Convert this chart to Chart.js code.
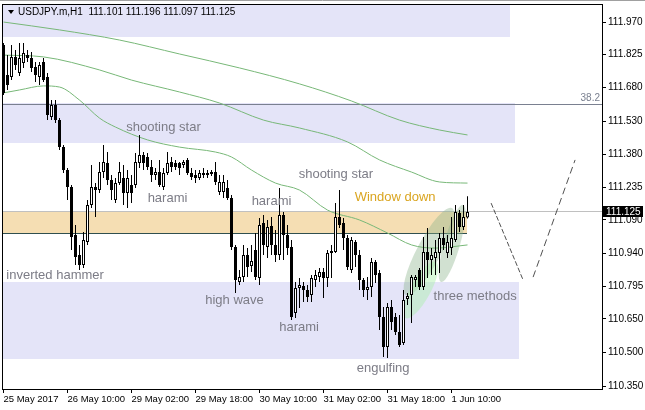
<!DOCTYPE html>
<html>
<head>
<meta charset="utf-8">
<script src="https://cdn.jsdelivr.net/npm/chart.js@4.4.1/dist/chart.umd.min.js"></script>
<style>
  html, body { margin: 0; padding: 0; background: #fff; }
  canvas { display: block; }
</style>
</head>
<body>
<canvas id="chart" width="645" height="410"></canvas>
<script>
"use strict";

// USDJPY H1 candles
const symbolName = "USDJPY.m,H1";
const barOpen = [
  111.868, 111.735, 111.726, 111.815, 111.743, 111.788, 111.823, 111.810, 111.770, 111.726,
  111.792, 111.726, 111.548, 111.601, 111.534, 111.414, 111.312, 111.237, 111.023, 110.934,
  110.890, 110.992, 111.157, 111.237, 111.223, 111.303, 111.343, 111.268, 111.179, 111.254,
  111.277, 111.210, 111.245, 111.245, 111.343, 111.379, 111.370, 111.325, 111.290, 111.303,
  111.237, 111.299, 111.348, 111.343, 111.343, 111.334, 111.357, 111.299, 111.290, 111.277,
  111.290, 111.299, 111.294, 111.303, 111.214, 111.214, 111.232, 111.188, 110.970, 110.814,
  110.836, 110.934, 110.885, 110.957, 110.832, 111.077, 110.970, 111.063, 110.979, 110.934,
  111.112, 111.023, 110.970, 110.676, 110.787, 110.796, 110.779, 110.756, 110.823, 110.836,
  110.859, 110.832, 110.943, 110.948, 111.103, 111.077, 111.010, 110.868, 110.992, 110.934,
  110.823, 110.779, 110.792, 110.903, 110.854, 110.659, 110.525, 110.703, 110.659, 110.592,
  110.543, 110.739, 110.756, 110.823, 110.868, 110.792, 110.948, 110.912, 110.921, 110.943,
  111.010, 110.943, 110.965, 111.001, 111.121, 111.059, 111.101
];
const barHigh = [
  111.877, 111.823, 111.868, 111.846, 111.877, 111.877, 111.846, 111.837, 111.792, 111.792,
  111.810, 111.743, 111.623, 111.623, 111.543, 111.423, 111.321, 111.245, 111.068, 110.979,
  111.037, 111.179, 111.334, 111.254, 111.348, 111.423, 111.392, 111.290, 111.277, 111.348,
  111.334, 111.312, 111.290, 111.388, 111.468, 111.392, 111.388, 111.357, 111.321, 111.357,
  111.321, 111.392, 111.370, 111.357, 111.348, 111.357, 111.366, 111.321, 111.312, 111.312,
  111.321, 111.312, 111.312, 111.348, 111.290, 111.290, 111.268, 111.201, 110.979, 110.868,
  110.979, 110.965, 110.979, 111.032, 111.099, 111.112, 111.090, 111.103, 111.045, 111.232,
  111.125, 111.068, 111.001, 110.814, 110.832, 110.814, 110.801, 110.845, 110.868, 110.876,
  110.876, 110.957, 110.979, 111.165, 111.223, 111.099, 111.023, 111.014, 111.001, 110.957,
  110.832, 110.836, 110.921, 110.912, 110.868, 110.703, 110.721, 110.734, 110.676, 110.668,
  110.779, 110.765, 110.845, 110.845, 110.876, 111.014, 111.054, 110.965, 111.001, 111.032,
  111.059, 111.023, 111.103, 111.157, 111.134, 111.157, 111.196
];
const barLow = [
  111.646, 111.668, 111.712, 111.757, 111.730, 111.766, 111.792, 111.748, 111.703, 111.690,
  111.703, 111.534, 111.534, 111.521, 111.401, 111.299, 111.179, 110.957, 110.890, 110.868,
  110.876, 110.979, 111.143, 111.103, 111.210, 111.277, 111.245, 111.179, 111.165, 111.245,
  111.157, 111.143, 111.165, 111.232, 111.321, 111.312, 111.312, 111.259, 111.268, 111.237,
  111.223, 111.290, 111.303, 111.312, 111.290, 111.321, 111.290, 111.268, 111.254, 111.268,
  111.277, 111.277, 111.286, 111.245, 111.201, 111.188, 111.179, 110.957, 110.765, 110.801,
  110.814, 110.836, 110.859, 110.823, 110.801, 110.934, 110.921, 110.934, 110.903, 110.912,
  110.912, 110.934, 110.645, 110.654, 110.699, 110.725, 110.725, 110.725, 110.792, 110.814,
  110.743, 110.792, 110.832, 110.943, 111.054, 110.957, 110.868, 110.854, 110.881, 110.779,
  110.748, 110.734, 110.748, 110.810, 110.601, 110.481, 110.476, 110.601, 110.579, 110.525,
  110.534, 110.712, 110.632, 110.792, 110.779, 110.779, 110.832, 110.845, 110.845, 110.854,
  110.957, 110.921, 110.934, 110.992, 111.037, 111.045, 111.097
];
const barClose = [
  111.655, 111.690, 111.815, 111.779, 111.810, 111.832, 111.810, 111.766, 111.735, 111.779,
  111.712, 111.557, 111.601, 111.534, 111.414, 111.312, 111.237, 111.014, 110.925, 110.890,
  111.001, 111.157, 111.237, 111.223, 111.303, 111.348, 111.268, 111.223, 111.254, 111.303,
  111.210, 111.277, 111.210, 111.348, 111.379, 111.343, 111.325, 111.290, 111.303, 111.245,
  111.299, 111.343, 111.325, 111.325, 111.321, 111.348, 111.299, 111.281, 111.277, 111.299,
  111.299, 111.290, 111.303, 111.259, 111.259, 111.259, 111.188, 110.970, 110.823, 110.836,
  110.934, 110.881, 110.908, 110.836, 111.068, 110.979, 111.059, 110.979, 110.934, 111.112,
  111.023, 110.965, 110.659, 110.787, 110.801, 110.779, 110.748, 110.832, 110.845, 110.859,
  110.832, 110.943, 110.952, 111.103, 111.068, 111.010, 110.881, 111.001, 110.934, 110.823,
  110.779, 110.792, 110.903, 110.845, 110.659, 110.525, 110.703, 110.636, 110.592, 110.534,
  110.734, 110.752, 110.836, 110.836, 110.792, 110.948, 110.912, 110.934, 110.948, 111.010,
  110.979, 110.992, 111.010, 111.125, 111.059, 111.103, 111.125
];

// axis ticks
const timeTickBars = [0, 16, 32, 48, 64, 80, 96, 112];
const timeTickLabels = ["25 May 2017", "26 May 10:00", "29 May 02:00", "29 May 18:00",
  "30 May 10:00", "31 May 02:00", "31 May 18:00", "1 Jun 10:00"];
const priceTicks = [111.970, 111.825, 111.680, 111.530, 111.380, 111.235, 111.090,
  110.940, 110.795, 110.650, 110.500, 110.350];

// moving averages (sampled along the curves)
const maSlowBars = [0, 14, 29, 44, 59, 74, 87, 99, 109, 116];
const maSlowValues = [111.970, 111.935, 111.890, 111.828, 111.766, 111.695, 111.619, 111.534, 111.490, 111.468];
const maMidBars = [0, 10, 24, 32, 44, 54, 65, 74, 86, 94, 102, 109, 116];
const maMidValues = [111.823, 111.815, 111.757, 111.712, 111.659, 111.610, 111.534, 111.499, 111.437, 111.357, 111.303, 111.259, 111.254];
const maFastBars = [0, 4, 10, 14, 19, 24, 28, 36, 44, 53, 57, 62, 68, 74, 81, 89, 96, 102, 108, 116];
const maFastValues = [111.655, 111.668, 111.686, 111.681, 111.623, 111.543, 111.503, 111.446, 111.414, 111.392,
  111.370, 111.312, 111.254, 111.223, 111.134, 111.090, 111.032, 110.979, 110.965, 110.979];

// support / resistance zones
const zoneEndBar = [126.6, 127.9, 128.9];
const zoneHigh = [112.060, 111.610, 110.814];
const zoneLow = [111.903, 111.432, 110.472];
const windowEndBar = 115.9;
const windowHigh = 111.125;
const windowLow = 111.032;
const fibLevel = 111.606;
const fibLabel = "38.2";

// projected path
const forecastDownBars = [121.9, 129.9];
const forecastDownPrices = [111.165, 110.823];
const forecastUpBars = [132.4, 142.9];
const forecastUpPrices = [110.836, 111.357];

// pattern marks
const patternNames = ["shooting star", "harami", "harami", "shooting star", "Window down",
  "inverted hammer", "high wave", "harami", "engulfing", "three methods"];
const patternBars = [40, 41, 67, 83.1, 97.9, 12.9, 57.75, 73.9, 94.9, 117.9];
const patternPrices = [111.503, 111.188, 111.174, 111.294, 111.192, 110.845, 110.734, 110.614, 110.432, 110.748];

// "three methods" highlight blobs: from bar/price to bar/price
const blobFromBar = [100.6, 109.4, 100.4];
const blobFromPrice = [110.756, 110.814, 110.654];
const blobToBar = [112.1, 114.9, 108.1];
const blobToPrice = [111.143, 111.157, 110.903];

const FONT = "'Liberation Sans', Arial, sans-serif";
const blobColors = ["rgba(140,180,140,0.40)", "rgba(140,180,140,0.40)", "rgba(170,240,170,0.45)"];
const blobHalfWidth = [12, 8, 10];

const overlayPlugin = {
  id: "overlay",
  beforeDatasetsDraw(chart) {
    const { ctx, chartArea: area, scales } = chart;
    const x = scales.x, y = scales.y;
    ctx.save();
    ctx.beginPath();
    ctx.rect(area.left, area.top, area.width, area.height);
    ctx.clip();

    zoneEndBar.forEach((endBar, i) => {
      const top = Math.round(y.getPixelForValue(zoneHigh[i]));
      const bottom = Math.round(y.getPixelForValue(zoneLow[i]));
      ctx.fillStyle = "#e4e4f8";
      ctx.fillRect(area.left, top, Math.round(x.getPixelForValue(endBar)) - area.left, bottom - top);
    });

    const wTop = Math.round(y.getPixelForValue(windowHigh));
    const wBottom = Math.round(y.getPixelForValue(windowLow));
    const wRight = Math.round(x.getPixelForValue(windowEndBar));
    ctx.fillStyle = "#f5deb3";
    ctx.fillRect(area.left, wTop, wRight - area.left, wBottom - wTop);
    ctx.strokeStyle = "#2f4f4f";
    ctx.lineWidth = 1;
    ctx.beginPath();
    ctx.moveTo(area.left, wBottom + 0.5);
    ctx.lineTo(wRight, wBottom + 0.5);
    ctx.stroke();

    // last bid line
    const bidY = Math.round(y.getPixelForValue(barClose[barClose.length - 1])) - 0.5;
    ctx.strokeStyle = "#c0c0c0";
    ctx.beginPath();
    ctx.moveTo(area.left, bidY);
    ctx.lineTo(area.right, bidY);
    ctx.stroke();

    // fibo level
    const fibY = Math.round(y.getPixelForValue(fibLevel)) + 0.5;
    ctx.strokeStyle = "#7a8090";
    ctx.beginPath();
    ctx.moveTo(area.left, fibY);
    ctx.lineTo(area.right, fibY);
    ctx.stroke();

    blobFromBar.forEach((fb, i) => {
      const x1 = x.getPixelForValue(fb), y1 = y.getPixelForValue(blobFromPrice[i]);
      const x2 = x.getPixelForValue(blobToBar[i]), y2 = y.getPixelForValue(blobToPrice[i]);
      const len = Math.hypot(x2 - x1, y2 - y1);
      ctx.fillStyle = blobColors[i];
      ctx.beginPath();
      ctx.ellipse((x1 + x2) / 2, (y1 + y2) / 2, len / 2, blobHalfWidth[i], Math.atan2(y2 - y1, x2 - x1), 0, Math.PI * 2);
      ctx.fill();
    });
    ctx.restore();
  },
  afterDatasetsDraw(chart) {
    const { ctx, scales } = chart;
    ctx.save();
    ctx.font = "13px " + FONT;
    ctx.textAlign = "center";
    ctx.textBaseline = "middle";
    patternNames.forEach((name, i) => {
      ctx.fillStyle = name === "Window down" ? "#daa520" : "#7c7c86";
      ctx.fillText(name, scales.x.getPixelForValue(patternBars[i]), scales.y.getPixelForValue(patternPrices[i]));
    });
    ctx.restore();
  },
  afterDraw(chart) {
    const { ctx, chartArea: area, scales } = chart;
    ctx.save();
    // window top edge
    ctx.strokeStyle = "#a0a0a0";
    ctx.lineWidth = 1;
    ctx.beginPath();
    ctx.moveTo(0, 0.5);
    ctx.lineTo(chart.width, 0.5);
    ctx.stroke();
    // frame
    ctx.strokeStyle = "#000";
    ctx.strokeRect(area.left + 0.5, area.top + 0.5, area.width, area.height);

    // fibo label
    ctx.font = "10px " + FONT;
    ctx.fillStyle = "#7a8090";
    ctx.textAlign = "right";
    ctx.textBaseline = "bottom";
    ctx.fillText(fibLabel, area.right - 2, scales.y.getPixelForValue(fibLevel) - 1);

    // title
    const last = barClose.length - 1;
    ctx.fillStyle = "#000";
    ctx.beginPath();
    ctx.moveTo(8, 10);
    ctx.lineTo(14, 10);
    ctx.lineTo(11, 14);
    ctx.closePath();
    ctx.fill();
    ctx.font = "10px " + FONT;
    ctx.textAlign = "left";
    ctx.textBaseline = "middle";
    ctx.fillText(symbolName + "  " + [barOpen[last], barHigh[last], barLow[last], barClose[last]]
      .map((v) => v.toFixed(3)).join(" "), 18, 12);

    // bid price box
    const bidY = Math.round(scales.y.getPixelForValue(barClose[last]));
    ctx.fillStyle = "#000";
    ctx.fillRect(area.right + 1, bidY - 6, 40, 11);
    ctx.fillStyle = "#fff";
    ctx.fillText(barClose[last].toFixed(3), area.right + 4, bidY);
    ctx.restore();
  },
};

const wickData = barHigh.map((h, i) => ({ x: i, y: [barLow[i], h] }));
const bodyData = barOpen.map((o, i) => ({ x: i, y: [o, barClose[i]] }));
const bodyColors = barOpen.map((o, i) => (barClose[i] >= o ? "#ffffff" : "#000000"));

const maLine = (bars, values) => ({
  type: "line",
  data: bars.map((b, i) => ({ x: b, y: values[i] })),
  borderColor: "#78b878",
  borderWidth: 1,
  pointRadius: 0,
  cubicInterpolationMode: "monotone",
  order: 5,
});
const forecastLine = (bars, prices, dash) => ({
  type: "line",
  data: bars.map((b, i) => ({ x: b, y: prices[i] })),
  borderColor: "#505050",
  borderWidth: 1,
  borderDash: dash,
  pointRadius: 0,
  order: 4,
});

new Chart(document.getElementById("chart"), {
  type: "bar",
  data: {
    datasets: [
      {
        data: bodyData,
        backgroundColor: bodyColors,
        borderColor: "#000",
        borderWidth: 1,
        borderSkipped: false,
        barThickness: 3,
        grouped: false,
        inflateAmount: 0,
        order: 1,
      },
      {
        data: wickData,
        backgroundColor: "#000",
        borderWidth: 0,
        barThickness: 1,
        grouped: false,
        inflateAmount: 0,
        order: 2,
      },
      maLine(maSlowBars, maSlowValues),
      maLine(maMidBars, maMidValues),
      maLine(maFastBars, maFastValues),
      forecastLine(forecastDownBars, forecastDownPrices, [5, 2]),
      forecastLine(forecastUpBars, forecastUpPrices, [7, 4]),
    ],
  },
  options: {
    responsive: false,
    animation: false,
    devicePixelRatio: 1,
    layout: { padding: { left: 2, top: 4, right: 0, bottom: 0 } },
    plugins: { legend: { display: false }, tooltip: { enabled: false } },
    scales: {
      x: {
        type: "linear",
        offset: false,
        min: -0.375,
        max: 149.625,
        afterBuildTicks: (scale) => {
          scale.ticks = timeTickBars.map((b) => ({ value: b }));
        },
        afterFit: (scale) => {
          scale.height = 21;
          scale.paddingLeft = 0;
          scale.paddingRight = 0;
        },
        grid: { drawOnChartArea: false, offset: false, tickLength: 4, color: "#000" },
        border: { color: "#000" },
        ticks: {
          autoSkip: false,
          maxRotation: 0,
          align: "start",
          padding: 1,
          color: "#000",
          font: { family: FONT, size: 9.5 },
          callback: (value, index) => timeTickLabels[index],
        },
      },
      y: {
        position: "right",
        min: 110.3385,
        max: 112.0502,
        afterBuildTicks: (scale) => {
          scale.ticks = priceTicks.map((v) => ({ value: v }));
        },
        afterFit: (scale) => {
          scale.width = 43;
          scale.paddingTop = 0;
          scale.paddingBottom = 0;
        },
        grid: { drawOnChartArea: false, tickLength: 4, color: "#000" },
        border: { color: "#000" },
        ticks: {
          autoSkip: false,
          padding: 2,
          color: "#000",
          font: { family: FONT, size: 10 },
          callback: (value) => value.toFixed(3),
        },
      },
    },
  },
  plugins: [overlayPlugin],
});
</script>
</body>
</html>
